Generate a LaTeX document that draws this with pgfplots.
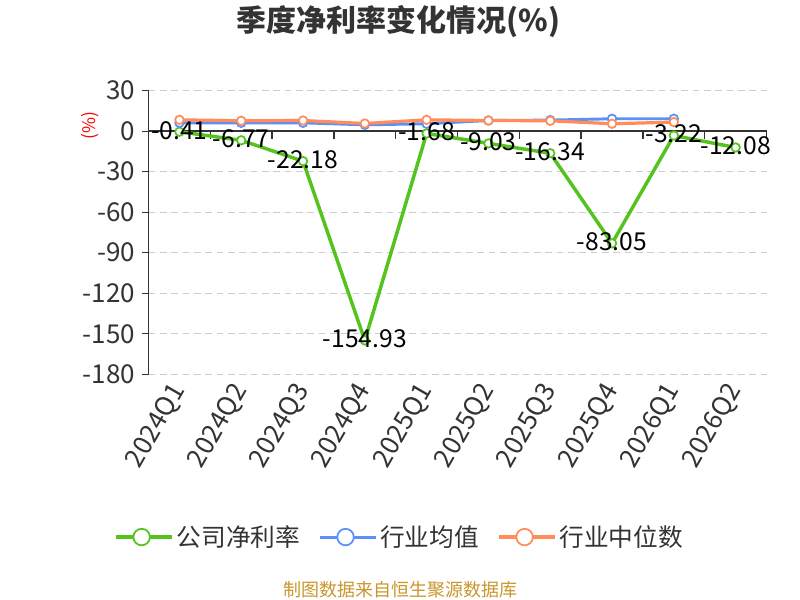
\documentclass[border=0pt]{standalone}
\usepackage{pgfplots}
\pgfplotsset{compat=1.18}
\usepackage{fontspec}
\setmainfont{Noto Sans CJK SC}
\definecolor{cgreen}{HTML}{55C31E}
\definecolor{cblue}{HTML}{5B8FF9}
\definecolor{corange}{HTML}{FF8C5A}
\definecolor{ctext}{HTML}{333333}
\definecolor{csrc}{HTML}{C9962A}
\begin{document}
\begin{tikzpicture}
\path[use as bounding box] (0pt,0pt) rectangle (600pt,450pt);
\node[font=\fontsize{22.5}{25}\selectfont\bfseries, text=ctext] at (299pt,434pt) {季度净利率变化情况(\%)};
\node[font=\fontsize{13.5}{16}\selectfont, text=csrc] at (300pt,7.5pt) {制图数据来自恒生聚源数据库};
\node[rotate=90, text=red, font=\fontsize{13}{15}\selectfont] at (67.5pt,356pt) {(\%)};
\begin{axis}[
  at={(111.4pt,169.3pt)}, anchor=south west,
  scale only axis, width=463.5pt, height=212.7pt,
  xmin=-0.5, xmax=9.5, ymin=-180, ymax=30,
  ytick={-180,-150,...,30},
  xtick={0,...,9},
  xticklabels={2024Q1,2024Q2,2024Q3,2024Q4,2025Q1,2025Q2,2025Q3,2025Q4,2026Q1,2026Q2},
  axis y line=left, axis x line=bottom,
  axis line style={-, draw=ctext, line width=1.1pt},
  x axis line style={draw=none},
  xtick style={draw=none},
  ytick style={draw=ctext, line width=1pt},
  tick align=outside, major tick length=5pt,
  ymajorgrids,
  grid style={dash pattern=on 5pt off 3.5pt, color=gray!40, line width=0.8pt},
  tick label style={font=\fontsize{19.5}{21}\selectfont, text=ctext},
  /pgf/number format/assume math mode=true,
  yticklabel style={xshift=-1.5pt},
  xticklabel style={rotate=60, anchor=east, yshift=-2pt},
  clip=false,
  legend columns=3,
  legend style={at={(0.407,-0.574)}, anchor=center, draw=none, fill=none,
    font=\fontsize{18.5}{20}\selectfont, text=ctext,
    /tikz/every even column/.append style={column sep=12pt}},
  legend image code/.code={
    \path (0pt,0pt) -- (42pt,0pt);
    \draw[#1, mark=none, line width=1.3pt] (0pt,0pt) -- (38pt,0pt);
    \draw[#1, mark=none, line width=1.3pt, fill=white] (19pt,0pt) circle (6.2pt);
  },
]
\draw[ctext, line width=1.1pt] (axis cs:-0.5,0) -- (axis cs:9.5,0);
\pgfplotsinvokeforeach{-0.5,0.5,...,9.5}{
  \draw[ctext, line width=1pt] (axis cs:#1,0) -- ++(0pt,-6pt);
}
\addplot[color=cgreen, line width=2.6pt, mark=*, mark size=3.2pt,
  mark options={fill=white, draw=cgreen, line width=1.3pt}]
  coordinates {(0,-0.41) (1,-6.77) (2,-22.18) (3,-154.93) (4,-1.68) (5,-9.03) (6,-16.34) (7,-83.05) (8,-3.22) (9,-12.08)};
\addlegendentry{公司净利率}
\addplot[color=cblue, line width=2.2pt, mark=*, mark size=3.2pt,
  mark options={fill=white, draw=cblue, line width=1.3pt}]
  coordinates {(0,6.2) (1,6.2) (2,6.2) (3,4.7) (4,5.5) (5,7.9) (6,8.2) (7,9.2) (8,9.2)};
\addlegendentry{行业均值}
\addplot[color=corange, line width=2.4pt, mark=*, mark size=3.2pt,
  mark options={fill=white, draw=corange, line width=1.3pt}]
  coordinates {(0,8.4) (1,7.7) (2,7.9) (3,5.7) (4,8.4) (5,7.9) (6,7.7) (7,5.5) (8,6.7)};
\addlegendentry{行业中位数}
\addplot[forget plot, draw=none, mark=none, point meta=explicit symbolic,
  nodes near coords,
  every node near coord/.append style={anchor=center, yshift=1pt, text=black, font=\fontsize{18.5}{20}\selectfont}]
  coordinates {(0,-0.41) [-0.41] (1,-6.77) [-6.77] (2,-22.18) [-22.18] (3,-154.93) [-154.93] (4,-1.68) [-1.68] (5,-9.03) [-9.03] (6,-16.34) [-16.34] (7,-83.05) [-83.05] (8,-3.22) [-3.22] (9,-12.08) [-12.08]};
\end{axis}
\end{tikzpicture}
\end{document}
